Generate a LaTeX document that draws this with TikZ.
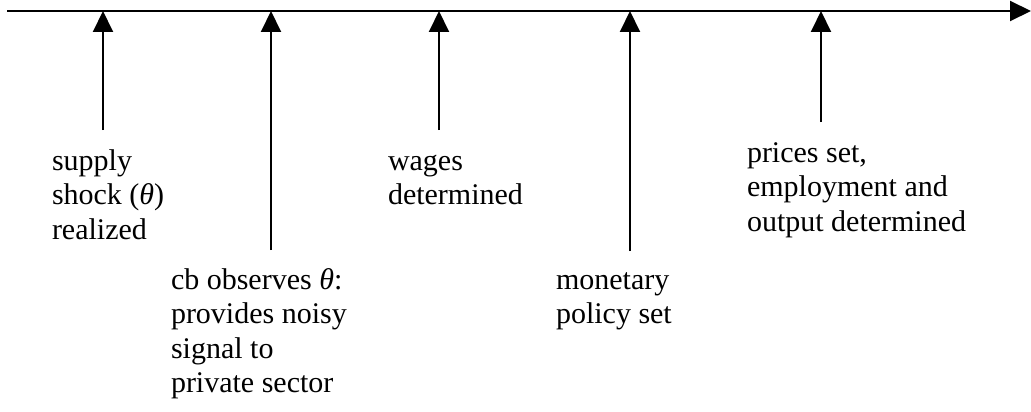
\documentclass[tikz,border=0pt]{standalone}
\usepackage{fontspec}
\setmainfont{Liberation Serif}
\usetikzlibrary{arrows.meta}
\begin{document}
\begin{tikzpicture}[x=1pt,y=-1pt,line width=2pt,
  evarrow/.style={-{Triangle[length=21pt,width=20pt]}},
  lbl/.style={anchor=north west,inner sep=0pt,align=left,font=\fontsize{30}{34.5}\selectfont}]
\useasboundingbox (0,0) rectangle (1031,412);
% timeline
\coordinate (start) at (7,11);
\coordinate (end) at (1031,11);
\draw[evarrow] (start) -- (end);
% event points on the timeline and arrow feet
\coordinate (t1) at (103,11);  \coordinate (b1) at (103,130);
\coordinate (t2) at (271,11);  \coordinate (b2) at (271,250);
\coordinate (t3) at (439,11);  \coordinate (b3) at (439,130);
\coordinate (t4) at (630,11);  \coordinate (b4) at (630,251);
\coordinate (t5) at (821,11);  \coordinate (b5) at (821,122);
\draw[evarrow] (b1) -- (t1);
\draw[evarrow] (b2) -- (t2);
\draw[evarrow] (b3) -- (t3);
\draw[evarrow] (b4) -- (t4);
\draw[evarrow] (b5) -- (t5);
% labels
\node[lbl] (supply) at (51,145) {\strut supply\\shock ({\itshape θ})\\realized};
\node[lbl] (cb) at (170,264) {\strut cb observes {\itshape θ}:\\provides noisy\\signal to\\private sector};
\node[lbl] (wages) at (387,145) {\strut wages\\determined};
\node[lbl] (monetary) at (555,264) {\strut monetary\\policy set};
\node[lbl] (prices) at (746,137) {\strut prices set,\\employment and\\output determined};
\end{tikzpicture}
\end{document}
